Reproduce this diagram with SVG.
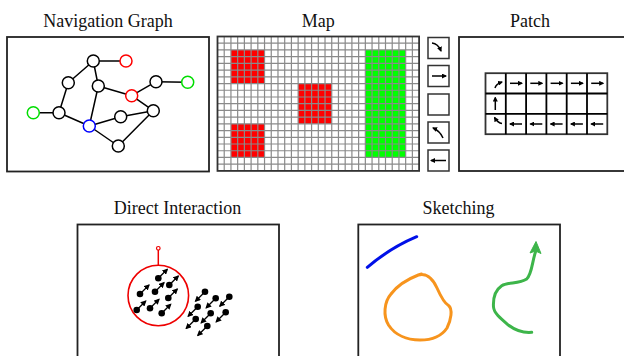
<svg xmlns="http://www.w3.org/2000/svg" width="624" height="356" viewBox="0 0 624 356">
<style>
.title{font-family:"Liberation Serif","DejaVu Serif",serif;font-size:18px;fill:#111;text-anchor:middle}
.frame{fill:#fff;stroke:#222;stroke-width:1.8}
.edge{stroke:#000;stroke-width:1.5;fill:none}
.node{fill:#fff;stroke:#000;stroke-width:1.5}
.grid{stroke:#8a8a8a;stroke-width:1.2;fill:none}
.icon{fill:#fff;stroke:#333;stroke-width:1.5}
.arr{stroke:#000;stroke-width:1.5;fill:none;marker-end:url(#ah)}
.darr{stroke:#000;stroke-width:1.3;fill:none;marker-end:url(#ah2)}
.dot{fill:#000}
</style>
<defs>
<marker id="ah" viewBox="0 0 10 10" refX="8" refY="5" markerWidth="5" markerHeight="5" orient="auto" markerUnits="userSpaceOnUse"><path d="M0,0L10,5L0,10z" fill="#000"/></marker>
<marker id="ah2" viewBox="0 0 10 10" refX="8" refY="5" markerWidth="6" markerHeight="6" orient="auto" markerUnits="userSpaceOnUse"><path d="M0,0L10,5L0,10z" fill="#000"/></marker>
</defs>

<!-- Navigation Graph -->
<g id="nav-graph">
<text class="title" x="108" y="26.5">Navigation Graph</text>
<rect class="frame" x="7" y="37" width="202" height="134.5"/>
<g id="nav-edges">
<path class="edge" d="M93.3,61L126,61M93.3,61L68.3,82.7M93.3,61L98.3,86M68.3,82.7L59,112.7M33.3,112.7L59,112.7M59,112.7L89.3,126M98.3,86L89.3,126M98.3,86L131.7,95.7M131.7,95.7L156,81.7M156,81.7L187.7,82.3M131.7,95.7L153.3,110.7M89.3,126L120.7,116.7M120.7,116.7L153.3,110.7M89.3,126L118.3,146M118.3,146L153.3,110.7"/>
</g>
<circle class="node" cx="93.3" cy="61" r="6"/>
<circle class="node" cx="126" cy="61" r="6" style="stroke:#f00"/>
<circle class="node" cx="68.3" cy="82.7" r="6"/>
<circle class="node" cx="98.3" cy="86" r="6"/>
<circle class="node" cx="156" cy="81.7" r="6"/>
<circle class="node" cx="187.7" cy="82.3" r="6" style="stroke:#0d0"/>
<circle class="node" cx="131.7" cy="95.7" r="6" style="stroke:#f00"/>
<circle class="node" cx="33.3" cy="112.7" r="6" style="stroke:#0d0"/>
<circle class="node" cx="59" cy="112.7" r="6"/>
<circle class="node" cx="153.3" cy="110.7" r="6"/>
<circle class="node" cx="120.7" cy="116.7" r="6"/>
<circle class="node" cx="89.3" cy="126" r="6" style="stroke:#00f"/>
<circle class="node" cx="118.3" cy="146" r="6"/>
</g>

<!-- Map -->
<g id="map">
<text class="title" x="318.3" y="26.5">Map</text>
<rect x="217.5" y="36.5" width="201.6" height="134.4" fill="#fff"/>
<rect x="230.94" y="49.94" width="33.6" height="33.6" fill="#f00"/>
<rect x="298.14" y="83.54" width="33.6" height="40.32" fill="#f00"/>
<rect x="230.94" y="123.86" width="33.6" height="33.6" fill="#f00"/>
<rect x="365.34" y="49.94" width="40.32" height="107.52" fill="#0f0"/>
<path class="grid" d="M224.22 36.5V170.9M230.94 36.5V170.9M237.66 36.5V170.9M244.38 36.5V170.9M251.1 36.5V170.9M257.82 36.5V170.9M264.54 36.5V170.9M271.26 36.5V170.9M277.98 36.5V170.9M284.7 36.5V170.9M291.42 36.5V170.9M298.14 36.5V170.9M304.86 36.5V170.9M311.58 36.5V170.9M318.3 36.5V170.9M325.02 36.5V170.9M331.74 36.5V170.9M338.46 36.5V170.9M345.18 36.5V170.9M351.9 36.5V170.9M358.62 36.5V170.9M365.34 36.5V170.9M372.06 36.5V170.9M378.78 36.5V170.9M385.5 36.5V170.9M392.22 36.5V170.9M398.94 36.5V170.9M405.66 36.5V170.9M412.38 36.5V170.9M217.5 43.22H419.1M217.5 49.94H419.1M217.5 56.66H419.1M217.5 63.38H419.1M217.5 70.1H419.1M217.5 76.82H419.1M217.5 83.54H419.1M217.5 90.26H419.1M217.5 96.98H419.1M217.5 103.7H419.1M217.5 110.42H419.1M217.5 117.14H419.1M217.5 123.86H419.1M217.5 130.58H419.1M217.5 137.3H419.1M217.5 144.02H419.1M217.5 150.74H419.1M217.5 157.46H419.1M217.5 164.18H419.1"/>
<rect x="217.5" y="36.5" width="201.6" height="134.4" fill="none" stroke="#333" stroke-width="1.8"/>
</g>

<!-- Tile icons -->
<g id="tiles">
<rect class="icon" x="428" y="37.5" width="21" height="21"/>
<path class="arr" d="M432,43 Q438,43.5 441,51"/>
<rect class="icon" x="428" y="65.5" width="21" height="21"/>
<path class="arr" d="M432,76 L446,76"/>
<rect class="icon" x="428" y="94" width="21" height="21"/>
<rect class="icon" x="428" y="122" width="21" height="21"/>
<path class="arr" d="M443,138 Q440,131 433,128"/>
<rect class="icon" x="428" y="150" width="21" height="21"/>
<path class="arr" d="M446,160.5 L431,160.5"/>
</g>

<!-- Patch -->
<g id="patch">
<text class="title" x="530" y="26.5">Patch</text>
<rect class="frame" x="459" y="37" width="180" height="134"/>
<rect x="485.5" y="73.2" width="121.8" height="61" fill="#fff" stroke="#333" stroke-width="1.8"/>
<path d="M505.8 73.2V134.2M526.1 73.2V134.2M546.4 73.2V134.2M566.7 73.2V134.2M587 73.2V134.2M485.5 93.5H607.3M485.5 113.8H607.3" stroke="#000" stroke-width="1.8" fill="none"/>
<path class="arr" d="M495,88 Q496,84 502,82"/>
<path class="arr" d="M510,83.3 L522,83.3"/>
<path class="arr" d="M530.3,83.3 L542.3,83.3"/>
<path class="arr" d="M550.6,83.3 L562.6,83.3"/>
<path class="arr" d="M570.9,83.3 L582.9,83.3"/>
<path class="arr" d="M591.2,83.3 L603.2,83.3"/>
<path class="arr" d="M495.3,110 L495.3,97.5"/>
<path class="arr" d="M502,123.5 Q498,123 494.5,117.5"/>
<path class="arr" d="M522,124 L510,124"/>
<path class="arr" d="M542.3,124 L530.3,124"/>
<path class="arr" d="M562.6,124 L550.6,124"/>
<path class="arr" d="M582.9,124 L570.9,124"/>
<path class="arr" d="M603.2,124 L591.2,124"/>
</g>

<!-- Direct Interaction -->
<g id="direct-interaction">
<text class="title" x="177.5" y="213.5">Direct Interaction</text>
<rect class="frame" x="77.5" y="224.5" width="201.5" height="140"/>
<line x1="158.3" y1="250" x2="158.3" y2="265" stroke="#e00" stroke-width="1.5"/>
<circle cx="158.3" cy="248.3" r="1.8" fill="#fff" stroke="#e00" stroke-width="1.2"/>
<circle cx="158.3" cy="295.5" r="30.3" fill="none" stroke="#e00" stroke-width="1.6"/>
<g id="dots-in">
<circle class="dot" cx="158.3" cy="278.3" r="3.3"/><path class="darr" d="M158.3,278.3 l9,-9"/>
<circle class="dot" cx="140" cy="294" r="3.3"/><path class="darr" d="M140,294 l9,-9"/>
<circle class="dot" cx="155" cy="291.7" r="3.3"/><path class="darr" d="M155,291.7 l9,-9"/>
<circle class="dot" cx="169.3" cy="285" r="3.3"/><path class="darr" d="M169.3,285 l9,-9"/>
<circle class="dot" cx="168.3" cy="298" r="3.3"/><path class="darr" d="M168.3,298 l9,-9"/>
<circle class="dot" cx="136.7" cy="310" r="3.3"/><path class="darr" d="M136.7,310 l9,-9"/>
<circle class="dot" cx="150" cy="308.3" r="3.3"/><path class="darr" d="M150,308.3 l9,-9"/>
<circle class="dot" cx="161.7" cy="313.3" r="3.3"/><path class="darr" d="M161.7,313.3 l9,-9"/>
</g>
<g id="dots-out">
<circle class="dot" cx="205" cy="291.7" r="3.3"/><path class="darr" d="M205,291.7 l-9.5,9.5"/>
<circle class="dot" cx="215.7" cy="298.3" r="3.3"/><path class="darr" d="M215.7,298.3 l-9.5,9.5"/>
<circle class="dot" cx="229.3" cy="296.7" r="3.3"/><path class="darr" d="M229.3,296.7 l-9.5,9.5"/>
<circle class="dot" cx="197.7" cy="306.7" r="3.3"/><path class="darr" d="M197.7,306.7 l-9.5,9.5"/>
<circle class="dot" cx="210.7" cy="313.3" r="3.3"/><path class="darr" d="M210.7,313.3 l-9.5,9.5"/>
<circle class="dot" cx="225.7" cy="312.3" r="3.3"/><path class="darr" d="M225.7,312.3 l-9.5,9.5"/>
<circle class="dot" cx="195.7" cy="319" r="3.3"/><path class="darr" d="M195.7,319 l-9.5,9.5"/>
<circle class="dot" cx="207.3" cy="326" r="3.3"/><path class="darr" d="M207.3,326 l-9.5,9.5"/>
</g>
</g>

<!-- Sketching -->
<g id="sketching">
<text class="title" x="458.5" y="213.5">Sketching</text>
<rect class="frame" x="358.3" y="224.5" width="201.7" height="140"/>
<path d="M367.3,267.3 Q390,248 416.7,236.7" fill="none" stroke="#0010e8" stroke-width="3" stroke-linecap="round"/>
<path d="M418.3,275 C425,273 432,277 437,288 C441,297 444,303 448.5,305.5 C453,309 451,320 447,328 C441,337 430,340 420,340 C407,340 395,335 388.5,325 C383,316 384,302 391,294 C397,286 408,279 418.3,275 L421.5,274" fill="none" stroke="#f7941d" stroke-width="3" stroke-linecap="round" stroke-linejoin="round"/>
<path d="M531.7,332.3 C524,333 515,330 508.3,325 C500,318 494,313 493.5,307 C493,299 494,291 501.7,285.7 C508,282 519,284 526.7,279 C532,274 532,262 535.5,252" fill="none" stroke="#3db54a" stroke-width="3" stroke-linecap="round"/>
<polygon points="536,241.5 530,253 535.5,251 541,253.5" fill="#3db54a" stroke="#3db54a" stroke-width="1" stroke-linejoin="round"/>
</g>
</svg>
